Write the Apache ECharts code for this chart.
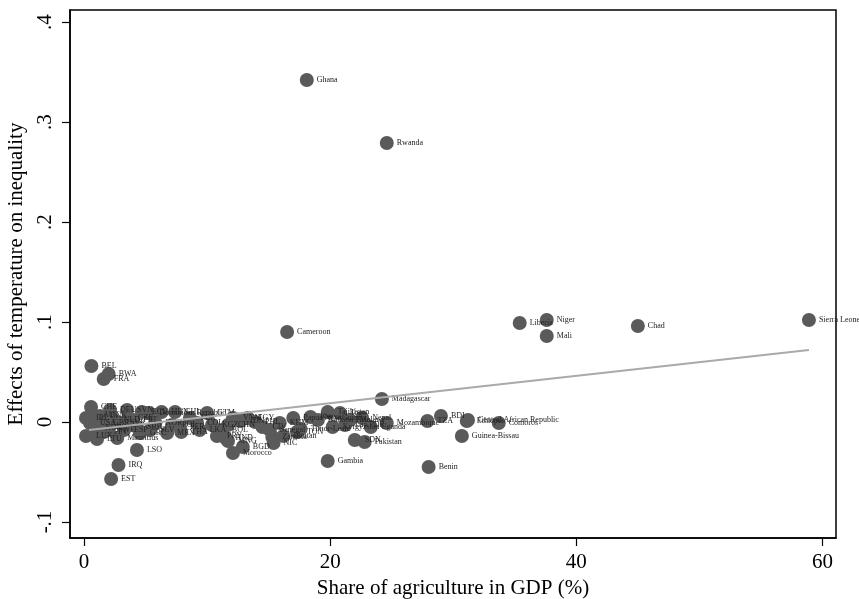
<!DOCTYPE html>
<html>
<head>
<meta charset="utf-8">
<script src="https://cdn.jsdelivr.net/npm/echarts@6/dist/echarts.min.js"></script>
<style>html,body{margin:0;padding:0;background:#fff;}#chart{width:859px;height:599px;}</style>
</head>
<body>
<div id="chart"></div>
<script>
// Country labels, share of agriculture in GDP (%), effect of temperature on inequality
const countries = [
  "Ghana","Rwanda","Cameroon","Liberia","Niger","Mali","Chad","Sierra Leone","Madagascar",
  "BEL","BWA","FRA","IRQ","EST","LSO","Gambia","Benin","Guinea-Bissau","BDI","TZA",
  "Mozambique","Ethiopia","Central African Republic","Comoros","SDN","Pakistan","Uganda","Nepal",
  "CHE","AUT","USA","LUX","LTU","GBR","DEU","SWE","Mauritius","SVK","SVN","CZE","SRB","ECU",
  "Dominican Republic","SLV","MEX","PER","THA","COL","GTM","KGZ","PRY","BOL","HND","MNG",
  "Morocco","BGD","IDN","PHL","IRL","NOR","DNK","FIN","NLD","ESP","PRT","GRC","KOR","HUN",
  "POL","CHL","TUR","LKA","CHN","VNM","EGY","CIV","Senegal","Zambia","NIC","KHM","Bhutan",
  "Papua New Guinea","TON","Timor-Leste","Kenya","Tajikistan","Togo","Kyrgyzstan","Malawi",
  "Burkina Faso","Lao PDR"
];
const agriShare = [
  18.1,24.6,16.5,35.4,37.6,37.6,45.0,58.9,24.2,
  0.6,2.0,1.6,2.8,2.2,4.3,19.8,28.0,30.7,29.0,27.9,
  24.6,31.1,31.2,33.7,22.0,22.8,23.3,22.6,
  0.57,0.73,0.49,0.16,1.06,1.54,2.11,1.95,2.7,2.93,3.5,3.58,4.31,4.7,
  5.3,5.37,6.75,7.8,7.9,9.19,10.0,10.4,10.8,11.2,11.5,11.7,
  12.1,12.9,12.7,13.9,0.16,0.9,1.3,1.6,2.4,3.25,4.0,4.55,5.8,6.3,
  7.15,7.4,8.6,9.4,11.7,12.1,13.3,14.5,15.1,15.3,15.4,15.9,16.2,
  17.0,17.3,17.6,18.4,19.8,20.8,20.2,21.6,
  19.0,21.2
];
const tempEffect = [
  0.342,0.279,0.090,0.099,0.102,0.086,0.096,0.102,0.023,
  0.056,0.048,0.043,-0.043,-0.057,-0.028,-0.039,-0.045,-0.014,0.006,0.001,
  -0.001,0.001,0.002,-0.001,-0.018,-0.020,-0.005,0.004,
  0.015,0.007,-0.001,-0.014,-0.017,-0.001,0.012,-0.008,-0.016,-0.001,0.012,0.004,-0.005,0.010,
  0.009,-0.008,-0.011,-0.005,-0.010,-0.001,0.009,-0.003,-0.014,-0.008,-0.016,-0.019,
  -0.031,-0.025,0.001,0.000,0.004,-0.006,0.006,-0.010,0.002,-0.008,0.002,-0.011,-0.001,0.010,
  -0.003,0.010,0.004,-0.008,-0.003,0.004,0.004,-0.005,-0.008,-0.015,-0.021,-0.001,-0.014,
  0.004,-0.010,-0.007,0.005,0.010,0.009,-0.005,0.002,
  0.002,-0.003
];
// Fitted line end points
const fitX = [0.4, 58.9];
const fitY = [-0.008, 0.072];
// Tick values and labels
const xTicks = [0, 20, 40, 60];
const yTicks = [-0.1, 0, 0.1, 0.2, 0.3, 0.4];
const yTickLabels = {"-0.1": "-.1", "0": "0", "0.1": ".1", "0.2": ".2", "0.3": ".3", "0.4": ".4"};

const points = countries.map((c, i) => ({ value: [agriShare[i], tempEffect[i]], name: c }));
const fitData = fitX.map((x, i) => [x, fitY[i]]);

const serif = "Liberation Serif";
const chart = echarts.init(document.getElementById('chart'), null, { renderer: 'canvas' });
chart.setOption({
  animation: false,
  backgroundColor: '#fff',
  grid: { left: 70, right: 23, top: 10, bottom: 61, show: true, borderColor: '#000', borderWidth: 1.5, containLabel: false, outerBoundsMode: 'none' },
  xAxis: {
    type: 'value', min: -1.14, max: 61.1,
    name: 'Share of agriculture in GDP (%)', nameLocation: 'middle', nameGap: 38,
    nameTextStyle: { fontFamily: serif, fontSize: 21, color: '#000' },
    axisLine: { show: true, onZero: false, lineStyle: { color: '#000', width: 1.5 } },
    axisTick: { show: true, length: 8, lineStyle: { color: '#000', width: 1.2 }, customValues: xTicks },
    axisLabel: { fontFamily: serif, fontSize: 21, color: '#000', margin: 14, customValues: xTicks },
    splitLine: { show: false }
  },
  yAxis: {
    type: 'value', min: -0.116, max: 0.412,
    name: 'Effects of temperature on inequality', nameLocation: 'middle', nameGap: 43, nameRotate: 90,
    nameTextStyle: { fontFamily: serif, fontSize: 21, color: '#000' },
    axisLine: { show: true, onZero: false, lineStyle: { color: '#000', width: 1.5 } },
    axisTick: { show: true, length: 8, lineStyle: { color: '#000', width: 1.2 }, customValues: yTicks },
    axisLabel: {
      fontFamily: serif, fontSize: 21, color: '#000', margin: 14, rotate: 90, customValues: yTicks,
      formatter: v => { const k = String(Math.round(v * 10) / 10); return yTickLabels[k] !== undefined ? yTickLabels[k] : k; }
    },
    splitLine: { show: false }
  },
  series: [
    {
      type: 'scatter', data: points, symbol: 'circle', symbolSize: 14,
      itemStyle: { color: '#5a5a5a', opacity: 1 },
      label: { show: true, position: 'right', distance: 3, formatter: p => p.name, fontFamily: serif, fontSize: 8, color: '#222' },
      labelLayout: { hideOverlap: false },
      emphasis: { disabled: true }, z: 2
    },
    {
      type: 'line', data: fitData, symbol: 'none', lineStyle: { color: '#aaaaaa', width: 2 },
      silent: true, z: 3
    }
  ]
});
</script>
</body>
</html>
